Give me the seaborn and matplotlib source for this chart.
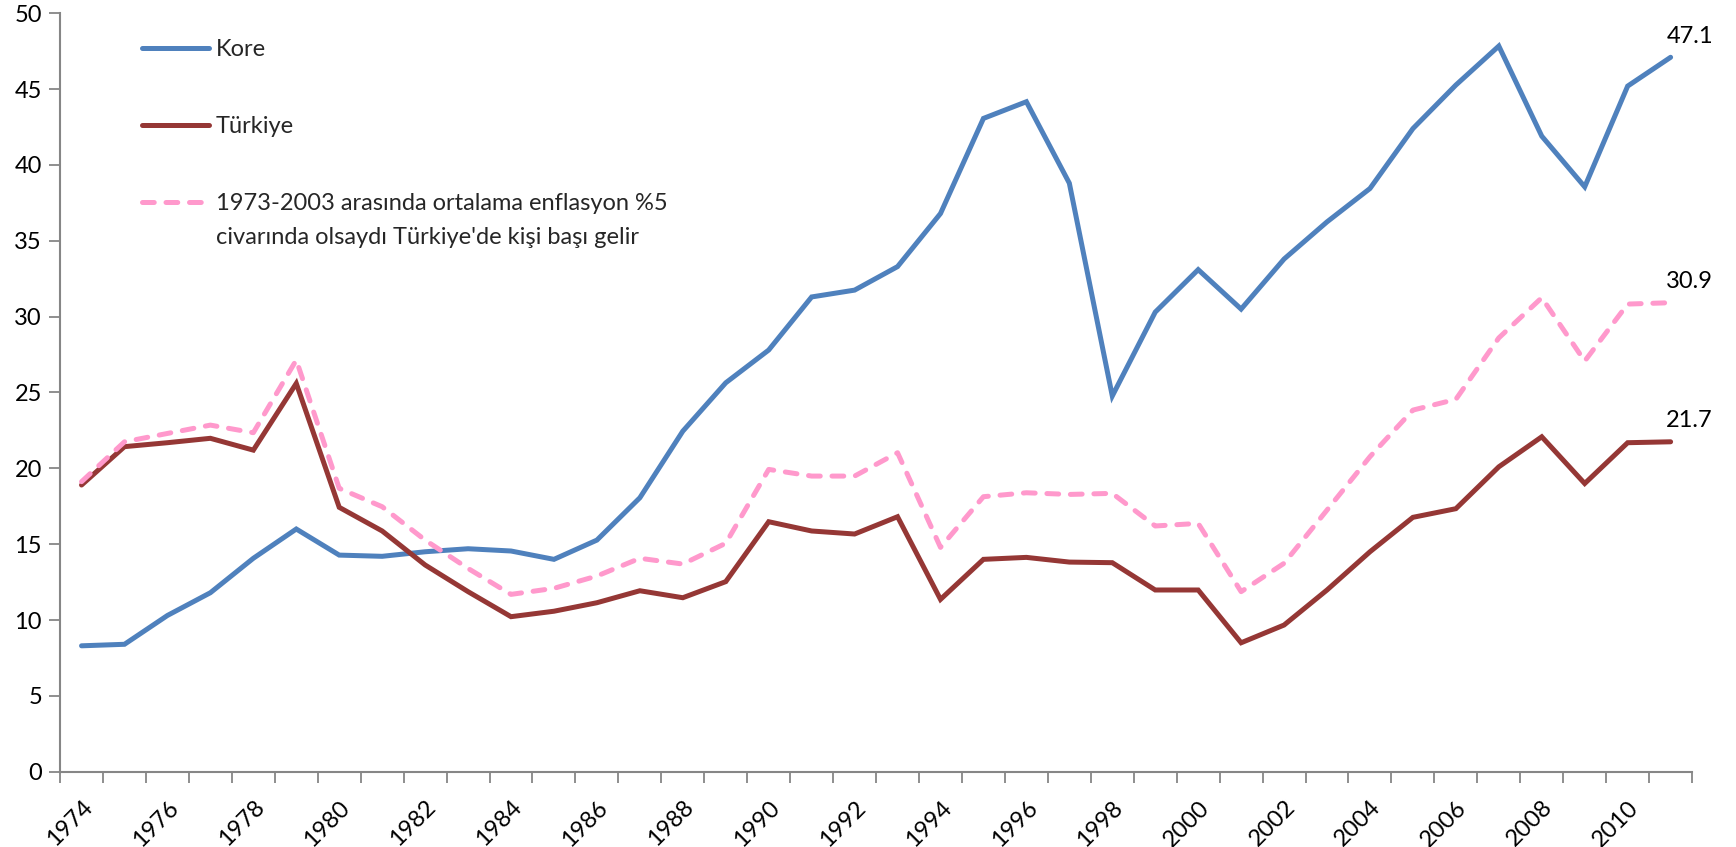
import numpy as np
import pandas as pd
import matplotlib
matplotlib.use("Agg")
import matplotlib.pyplot as plt
import seaborn as sns

years = list(range(1974, 2012))
kore = [8.3, 8.4, 10.3, 11.8, 14.07, 16.0, 14.28, 14.2, 14.5, 14.7, 14.55, 14.0,
        15.27, 18.06, 22.45, 25.64, 27.8, 31.3, 31.75, 33.3, 36.8, 43.07, 44.17,
        38.8, 24.77, 30.3, 33.1, 30.5, 33.8, 36.25, 38.45, 42.4, 45.27, 47.84,
        41.9, 38.56, 45.2, 47.1]
turkiye = [18.9, 21.43, 21.69, 21.98, 21.2, 25.6, 17.43, 15.87, 13.63, 11.87,
           10.22, 10.58, 11.14, 11.93, 11.47, 12.53, 16.48, 15.87, 15.67, 16.81,
           11.36, 14.0, 14.13, 13.82, 13.78, 11.98, 11.98, 8.5, 9.67, 11.98, 14.5,
           16.77, 17.34, 20.1, 22.08, 19.0, 21.69, 21.75]
pembe = [19.12, 21.75, 22.3, 22.85, 22.35, 27.14, 18.68, 17.47, 15.27, 13.4,
         11.69, 12.09, 12.9, 14.07, 13.69, 15.06, 19.93, 19.49, 19.49, 21.03,
         14.79, 18.13, 18.39, 18.28, 18.35, 16.2, 16.37, 11.87, 13.74, 17.25,
         20.77, 23.84, 24.55, 28.6, 31.25, 27.07, 30.83, 30.92]
labels = ["Kore", "Türkiye", "1973-2003 arasında ortalama enflasyon %5"]
label_line2 = "civarında olsaydı Türkiye'de kişi başı gelir"
end_labels = ["47.1", "30.9", "21.7"]
y_ticks = [0, 5, 10, 15, 20, 25, 30, 35, 40, 45, 50]

sns.set_theme(style="white")
plt.rcParams['font.family'] = ['Lato', 'DejaVu Sans']

df = pd.DataFrame({"year": years, "Kore": kore, "Türkiye": turkiye, "pembe": pembe})

fig = plt.figure(figsize=(17.36, 8.47), dpi=100)
ax = fig.add_axes([0.0346, 0.0889, 0.9401, 0.8954])

lw = 3.6
sns.lineplot(data=df, x="year", y="Kore", ax=ax, color="#4F81BD", linewidth=lw,
             label=labels[0], solid_capstyle="round", solid_joinstyle="miter")
sns.lineplot(data=df, x="year", y="Türkiye", ax=ax, color="#953735", linewidth=lw,
             label=labels[1], solid_capstyle="round", solid_joinstyle="miter")
sns.lineplot(data=df, x="year", y="pembe", ax=ax, color="#FF99CC", linewidth=lw,
             label=labels[2])
pl = ax.lines[-1]
pl.set_linestyle((0, (2.35, 2.35)))
pl.set_dash_capstyle("round")

ax.set_xlim(years[0] - 0.5, years[-1] + 0.5)
ax.set_ylim(0, 50)
ax.set_xlabel("")
ax.set_ylabel("")

ax.set_yticks(y_ticks)
ax.set_yticklabels([str(v) for v in y_ticks])
even = [y for y in years if y % 2 == 0]
ax.set_xticks(even)
ax.set_xticklabels([str(y) for y in even], rotation=45, ha="right",
                   rotation_mode="anchor")
ax.set_xticks(np.arange(years[0] - 0.5, years[-1] + 1.0, 1.0), minor=True)
ax.tick_params(axis="x", which="major", length=0, pad=18, labelsize=17,
               labelcolor="black")
ax.tick_params(axis="x", which="minor", length=8, width=1.3, color="#868686",
               direction="out")
ax.tick_params(axis="y", which="major", length=8, width=1.3, color="#868686",
               direction="out", labelsize=17, labelcolor="black", pad=5)
ax.tick_params(axis="both", which="both", bottom=True, left=True)

for s in ["top", "right"]:
    ax.spines[s].set_visible(False)
for s in ["left", "bottom"]:
    ax.spines[s].set_color("#868686")
    ax.spines[s].set_linewidth(1.5)

for vals, txt in zip([kore, pembe, turkiye], end_labels):
    ax.annotate(txt, xy=(years[-1], vals[-1]), xytext=(19, 21),
                textcoords="offset pixels", ha="center", va="center",
                fontsize=17, color="black")

leg = ax.legend(loc="upper left", bbox_to_anchor=((142 - 60) / 1632, 0.966),
                frameon=False, fontsize=17, handlelength=2.85, handletextpad=0.28,
                labelspacing=2.38, borderpad=0, borderaxespad=0)
for h in leg.get_lines():
    h.set_solid_capstyle("round")
    h.set_dash_capstyle("round")
t3 = leg.get_texts()[2]
ax.annotate(label_line2, xy=(0, 0.5), xycoords=t3,
            xytext=(0, -34), textcoords="offset pixels", ha="left", va="center",
            fontproperties=t3.get_fontproperties().copy(), color=t3.get_color(),
            zorder=10)

fig.savefig("out.png", dpi=100, facecolor="white")
